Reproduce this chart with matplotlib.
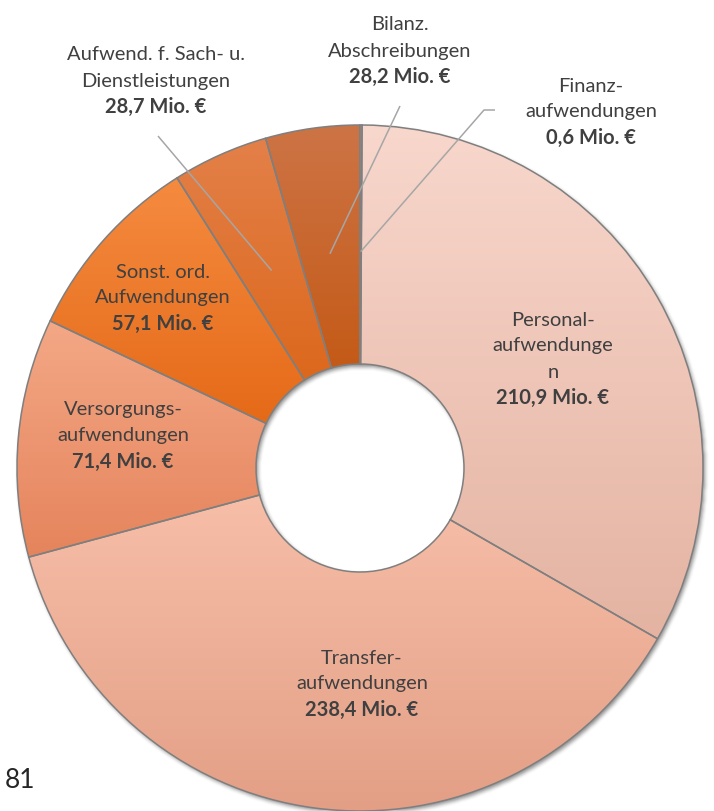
import numpy as np
import matplotlib
matplotlib.use("Agg")
import matplotlib.pyplot as plt
from matplotlib.colors import to_rgb

# ---- data ----
categories = ["Finanz-\naufwendungen",
              "Personal-\naufwendunge\nn",
              "Transfer-\naufwendungen",
              "Versorgungs-\naufwendungen",
              "Sonst. ord.\nAufwendungen",
              "Aufwend. f. Sach- u.\nDienstleistungen",
              "Bilanz.\nAbschreibungen"]
values = [0.6, 210.9, 238.4, 71.4, 57.1, 28.7, 28.2]
unit = "Mio. €"
page_number = "81"

# ---- style ----
top_colors = ["#F9DCD2", "#F8D7CC", "#F7BEA8", "#F4A886", "#F58B40", "#E38049", "#CD7446"]
bot_colors = ["#F3CDBF", "#E4B3A2", "#E39F86", "#E5845C", "#E56A18", "#DC681C", "#C45A17"]
# label anchor (image px: x centre, y of first line)
label_pos = [(591, 86), (553, 320), (362, 658), (123, 410), (163, 272), (156, 55), (400, 25)]
# leader start points (image px) for outside labels; None = inside label
leader_start = [[(495, 110), (484, 110)], None, None, None, None, [(158, 136)], [(400, 106)]]

W, H = 714, 811
plt.rcParams['font.family'] = ['Lato', 'DejaVu Sans']
fig = plt.figure(figsize=(W / 100, H / 100), dpi=100)
ax = fig.add_axes([0, 0, 1, 1])

cx_img, cy_img = 360, 468
R, r_in = 343, 104
center = (cx_img, H - cy_img)

# ---- soft shadow ----
yy, xx = np.mgrid[0:H, 0:W] + 0.5
d = np.hypot(xx - (cx_img + 2), yy - (cy_img + 2.5))
mask = ((d <= R) & (d >= r_in)).astype(float)

def box_blur(a, k):
    ker = np.ones(2 * k + 1) / (2 * k + 1)
    a = np.apply_along_axis(lambda m: np.convolve(m, ker, mode='same'), 0, a)
    a = np.apply_along_axis(lambda m: np.convolve(m, ker, mode='same'), 1, a)
    return a

mask = box_blur(box_blur(mask, 2), 2)
shadow = np.zeros((H, W, 4))
shadow[..., 3] = mask * 0.45
ax.imshow(shadow, extent=(0, W, 0, H), origin='upper', zorder=0.5, interpolation='bilinear')

# ---- donut ----
wedges, _ = ax.pie(values, startangle=90, counterclock=False, radius=R, center=center,
                   colors=bot_colors, wedgeprops=dict(width=R - r_in, linewidth=0))

t = np.linspace(0, 1, 256)[:, None, None]
for w, ct, cb in zip(wedges, top_colors, bot_colors):
    ext = w.get_path().get_extents()
    ct, cb = np.array(to_rgb(ct)), np.array(to_rgb(cb))
    grad = cb + (ct - cb) * t
    grad = np.repeat(grad, 2, axis=1)
    im = ax.imshow(grad, extent=(ext.x0, ext.x1, ext.y0, ext.y1), origin='lower',
                   aspect='auto', zorder=2, interpolation='bilinear')
    im.set_clip_path(w)
    w.set_facecolor('none')
    w.set_edgecolor('#7F7F7F')
    w.set_linewidth(1.1)
    w.set_zorder(3)

# ---- labels ----
txt_col = '#404040'
fs = 14.5
lh = 26
for w, cat, v, (lx, ly), ls in zip(wedges, categories, values, label_pos, leader_start):
    lines = cat.split("\n")
    for i, line in enumerate(lines):
        ax.text(lx, H - (ly + i * lh), line, ha='center', va='center', fontsize=fs,
                color=txt_col, zorder=5)
    vtxt = f"{v:.1f}".replace(".", ",") + " " + unit
    ax.text(lx, H - (ly + len(lines) * lh), vtxt, ha='center', va='center', fontsize=fs,
            fontweight='bold', color=txt_col, zorder=5)
    if ls is not None:
        mid = np.deg2rad((w.theta1 + w.theta2) / 2)
        rm = R - (R - r_in) * 0.53
        ex = center[0] + rm * np.cos(mid)
        ey = center[1] + rm * np.sin(mid)
        xs = [p[0] for p in ls] + [ex]
        ys = [H - p[1] for p in ls] + [ey]
        ax.plot(xs, ys, color='#A6A6A6', lw=1.1, zorder=4, solid_capstyle='butt')

ax.text(5, H - 780, page_number, ha='left', va='center', fontsize=19, color='#262626',
        fontweight='normal')

ax.set_xlim(0, W)
ax.set_ylim(0, H)
ax.set_aspect('auto')
ax.axis('off')
fig.savefig("out.png", dpi=100, facecolor='white')
